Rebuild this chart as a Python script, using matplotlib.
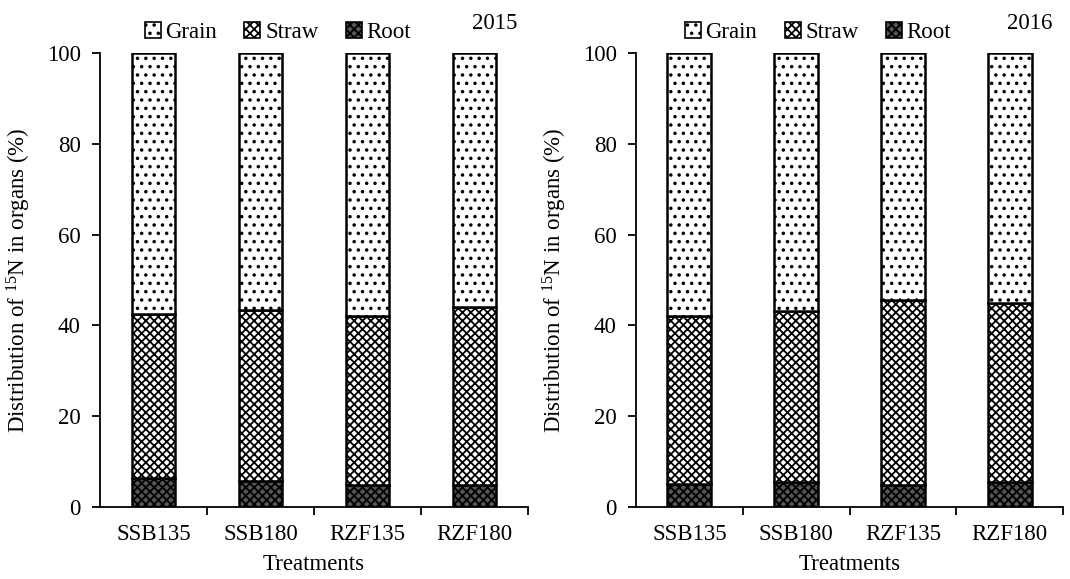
import matplotlib
matplotlib.use("Agg")
import matplotlib.pyplot as plt
from matplotlib.patches import Patch
import numpy as np

plt.rcParams['font.family'] = ['Liberation Serif', 'DejaVu Serif']
plt.rcParams['mathtext.fontset'] = 'custom'
plt.rcParams['mathtext.rm'] = 'Liberation Serif'
plt.rcParams['mathtext.it'] = 'Liberation Serif:italic'
plt.rcParams['hatch.linewidth'] = 1.3

treatments = ["SSB135", "SSB180", "RZF135", "RZF180"]
root_2015 = [6.4, 5.7, 4.8, 4.9]
straw_2015 = [36.1, 37.8, 37.2, 39.1]
grain_2015 = [57.5, 56.5, 58.0, 56.0]
root_2016 = [5.1, 5.5, 4.8, 5.5]
straw_2016 = [36.9, 37.7, 40.8, 39.5]
grain_2016 = [58.0, 56.8, 54.4, 55.0]

fig = plt.figure(figsize=(10.70, 5.79), dpi=100)
ax1 = fig.add_axes([100/1070, 1-507/579, 428/1070, 454/579])
ax2 = fig.add_axes([636/1070, 1-507/579, 427/1070, 454/579])

styles = {
    'Grain': dict(facecolor='white', hatch='..'),
    'Straw': dict(facecolor='white', hatch='xxxx'),
    'Root': dict(facecolor='#555555', hatch='xxxx'),
}
FS = 16.5

def draw(ax, root, straw, grain, year, legx):
    x = np.arange(len(treatments))
    w = 0.41
    root = np.array(root); straw = np.array(straw); grain = np.array(grain)
    ax.bar(x, root, w, edgecolor='black', linewidth=1.8, **styles['Root'])
    ax.bar(x, straw, w, bottom=root, edgecolor='black', linewidth=1.8, **styles['Straw'])
    ax.bar(x, grain, w, bottom=root + straw, edgecolor='black', linewidth=1.8, **styles['Grain'])
    ax.set_xlim(-0.5, len(treatments) - 0.5)
    ax.set_ylim(0, 100)
    ax.set_yticks(np.arange(0, 101, 20))
    ax.set_xticks(x)
    ax.set_xticklabels(treatments)
    ax.set_xticks(np.arange(0.5, len(treatments), 1), minor=True)
    ax.tick_params(axis='x', which='major', length=0, pad=12, labelsize=FS)
    ax.tick_params(axis='x', which='minor', length=6, width=1.3, direction='out')
    ax.tick_params(axis='y', length=6, width=1.3, direction='out', labelsize=FS, pad=8)
    for s in ['top', 'right']:
        ax.spines[s].set_visible(False)
    for s in ['left', 'bottom']:
        ax.spines[s].set_linewidth(1.3)
    ax.set_xlabel('Treatments', fontsize=FS, labelpad=7)
    ax.set_ylabel('Distribution of $^{15}$N in organs (%)', fontsize=FS, labelpad=10)
    handles = [Patch(edgecolor='black', linewidth=1.2, **styles[k]) for k in ['Grain', 'Straw', 'Root']]
    ax.legend(handles, ['Grain', 'Straw', 'Root'], ncol=3, loc='lower left',
              bbox_to_anchor=(legx, 1.0), frameon=False, fontsize=FS,
              handlelength=0.7, handleheight=0.7, handletextpad=0.2,
              columnspacing=1.2, borderaxespad=0.05)
    ax.text(0.975, 1.065, year, transform=ax.transAxes, ha='right', va='center', fontsize=FS)

draw(ax1, root_2015, straw_2015, grain_2015, '2015', 0.08)
draw(ax2, root_2016, straw_2016, grain_2016, '2016', 0.09)

fig.savefig('out.png', dpi=100)
